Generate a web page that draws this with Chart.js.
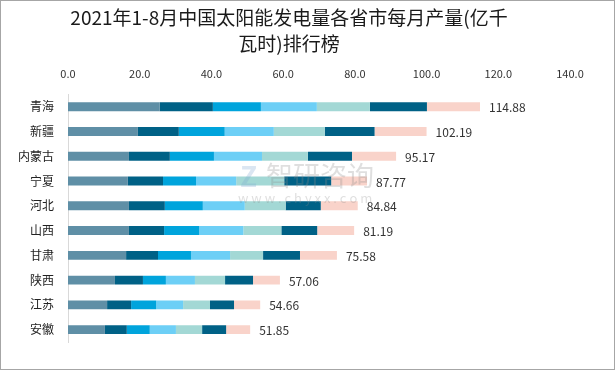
<!DOCTYPE html>
<html>
<head>
<meta charset="utf-8">
<script src="https://cdn.jsdelivr.net/npm/chart.js@4/dist/chart.umd.min.js"></script>
<style>
    html, body { margin: 0; padding: 0; background: #fff; }
    #wrap { width: 615px; height: 370px; }
</style>
</head>
<body>
<div id="wrap"><canvas id="chart" width="615" height="370"></canvas></div>
<script>
// 省份与月度发电量(亿千瓦时)
const provinces = ['青海', '新疆', '内蒙古', '宁夏', '河北', '山西', '甘肃', '陕西', '江苏', '安徽'];
const months = ['1-2月', '3月', '4月', '5月', '6月', '7月', '8月'];
const totals = [114.88, 102.19, 95.17, 87.77, 84.84, 81.19, 75.58, 57.06, 54.66, 51.85];

const m12 = [25.6, 19.5, 17.0, 16.7, 17.0, 17.0, 16.2, 13.1, 10.9, 10.3];
const m3 = [14.8, 11.4, 11.4, 9.8, 10.0, 9.8, 8.9, 7.8, 6.7, 6.1];
const m4 = [13.4, 12.8, 12.3, 9.2, 10.6, 9.8, 9.2, 6.4, 7.0, 6.4];
const m5 = [15.6, 13.7, 13.4, 11.2, 11.7, 12.3, 10.9, 8.1, 7.5, 7.3];
const m6 = [14.8, 14.2, 12.8, 13.4, 11.4, 10.6, 9.2, 8.4, 7.5, 7.3];
const m7 = [15.9, 13.9, 12.3, 13.1, 9.8, 10.0, 10.3, 7.8, 6.7, 6.7];
const m8 = [14.8, 14.5, 12.3, 10.0, 10.3, 10.3, 10.3, 7.5, 7.3, 6.7];

const xTicks = [0, 20, 40, 60, 80, 100, 120, 140];

const seriesValues = [m12, m3, m4, m5, m6, m7, m8];
const colors = ['#5f8fa6', '#006186', '#00a4dc', '#6dcff6', '#a3d8d5', '#006186', '#f9d3ca'];

const FONT = '"Noto Sans CJK SC", "Noto Sans", sans-serif';

// 总量标签 + 水印 + 外框
const extras = {
    id: 'extras',
    afterDatasetsDraw(chart) {
        const ctx = chart.ctx;
        const last = chart.getDatasetMeta(seriesValues.length - 1);
        ctx.save();
        ctx.font = '12px ' + FONT;
        ctx.fillStyle = '#333';
        ctx.textBaseline = 'middle';
        ctx.textAlign = 'left';
        last.data.forEach((bar, i) => {
            ctx.fillText(totals[i].toFixed(2), bar.x + 9, bar.y + 1);
        });

        // 水印
        ctx.globalAlpha = 0.28;
        ctx.fillStyle = '#8c8c8c';
        ctx.font = '27px ' + FONT;
        ctx.fillText('智研咨询', 266, 176);
        ctx.font = '13px ' + FONT;
        ctx.fillText('w w w . c h y x x . c o m', 238, 198);
        ctx.fillStyle = '#7fa6cf';
        ctx.font = 'bold 28px ' + FONT;
        ctx.fillText('Z', 240, 176);
        ctx.restore();

        ctx.save();
        ctx.strokeStyle = '#a6a6a6';
        ctx.lineWidth = 1;
        ctx.strokeRect(0.5, 0.5, chart.width - 1, chart.height - 1);
        ctx.restore();
    }
};

new Chart(document.getElementById('chart'), {
    type: 'bar',
    data: {
        labels: provinces,
        datasets: seriesValues.map((vals, i) => ({
            label: months[i],
            data: vals,
            backgroundColor: colors[i],
            borderWidth: 0,
            barPercentage: 0.36,
            categoryPercentage: 1.0
        }))
    },
    options: {
        indexAxis: 'y',
        responsive: false,
        animation: false,
        layout: {
            padding: { left: 8, right: 45, top: 0, bottom: 28 }
        },
        plugins: {
            legend: { display: false },
            tooltip: { enabled: false },
            title: {
                display: true,
                text: ['2021年1-8月中国太阳能发电量各省市每月产量(亿千', '瓦时)排行榜'],
                color: '#1a1a1a',
                font: { family: FONT, size: 19, weight: 'normal', lineHeight: 1.4 },
                padding: { top: 4, bottom: -4 }
            }
        },
        scales: {
            x: {
                position: 'top',
                stacked: true,
                min: 0,
                max: 140,
                afterBuildTicks(scale) {
                    scale.ticks = xTicks.map(v => ({ value: v }));
                },
                ticks: {
                    color: '#333',
                    font: { family: FONT, size: 11 },
                    padding: 14,
                    callback: v => Number(v).toFixed(1)
                },
                grid: { display: false, drawTicks: false },
                border: { display: false }
            },
            y: {
                stacked: true,
                afterFit(scale) { scale.width = 60; },
                ticks: {
                    color: '#222',
                    font: { family: FONT, size: 12 },
                    padding: 14
                },
                grid: { display: false, drawTicks: false },
                border: { display: true, color: '#d9d9d9', width: 1 }
            }
        }
    },
    plugins: [extras]
});
</script>
</body>
</html>
